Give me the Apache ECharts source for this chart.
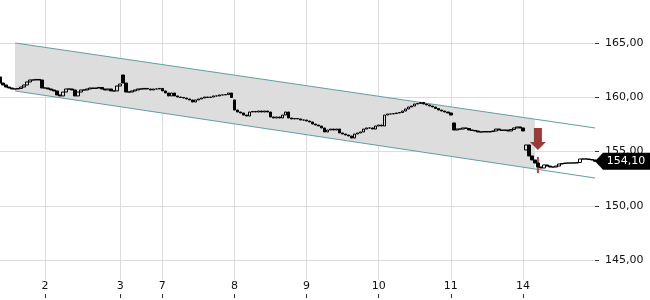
<!DOCTYPE html>
<html><head><meta charset="utf-8">
<script src="https://cdn.jsdelivr.net/npm/echarts@6/dist/echarts.min.js"></script>
<style>html,body{margin:0;padding:0;background:#fff}#c{width:650px;height:300px}</style>
</head><body><div id="c"></div>
<script>
// closing price of each small bar (open = previous close unless listed in gapOpens)
const closes = [
161.31,161.13,160.94,160.85,160.76,160.76,160.81,160.94,161.13,161.41,
161.59,161.59,161.64,161.59,160.85,160.85,160.76,160.67,160.58,160.21,
160.12,160.48,160.76,160.76,160.67,160.12,160.48,160.67,160.67,160.76,
160.85,160.81,160.85,160.90,160.76,160.67,160.76,160.58,160.58,161.04,
161.22,161.31,160.48,160.48,160.58,160.67,160.76,160.76,160.81,160.76,
160.67,160.76,160.76,160.81,160.58,160.39,160.12,160.39,160.12,160.02,
159.98,159.93,159.84,159.75,159.56,159.75,159.84,159.93,160.02,159.98,
160.02,160.12,160.12,160.21,160.21,160.25,160.39,159.98,158.82,158.64,
158.55,158.36,158.27,158.64,158.69,158.64,158.73,158.64,158.73,158.64,
158.18,158.09,158.18,158.09,158.36,158.64,158.09,158.00,158.04,158.00,
157.90,157.90,157.81,157.72,157.53,157.44,157.35,157.17,156.80,156.98,
157.07,156.98,157.07,156.71,156.61,156.52,156.43,156.24,156.61,156.71,
156.80,157.07,157.17,157.17,157.07,157.35,157.44,157.35,158.36,158.46,
158.46,158.50,158.55,158.59,158.73,158.92,159.10,159.19,159.38,159.42,
159.52,159.38,159.29,159.19,159.10,158.96,158.82,158.73,158.64,158.55,
158.36,156.98,157.07,157.07,157.17,157.12,156.98,156.94,156.89,156.80,
156.80,156.84,156.80,156.84,156.89,157.07,156.98,156.94,156.98,156.89,
157.03,157.17,157.26,157.17,156.89,155.60,154.59,154.22,153.94,153.57,
153.48,153.76,153.66,153.57,153.57,153.66,153.85,153.89,153.94,153.94,
153.94,153.94,153.99,154.31,154.31,154.31,154.26,154.22,154.10
];
const gapOpens = {0:161.87, 41:162.05, 78:159.75, 151:157.63, 175:155.14};
const dayLabels = ['2','3','7','8','9','10','11','14'];
const dayStartIdx = [15,40,54,78,102,126,150,174];
const channelIdx = [5,178,198];
const channelUpper = [165.00,157.98,157.17];
const channelLower = [160.58,153.39,152.56];
const lastPrice = 154.10;
const arrowPoint = [179, 156.15];
const signalBar = [179, 154.50, 153.00];

const cats = closes.map((_, i) => String(i));
const candles = closes.map((c, i) => {
  const o = (i in gapOpens) ? gapOpens[i] : closes[i - 1];
  return [o, c, Math.min(o, c), Math.max(o, c)];
});
const isDay = (i) => dayStartIdx.indexOf(i) >= 0;
const fmt = (v) => v.toFixed(2).replace('.', ',');
const FONT = 'DejaVu Sans';

const chart = echarts.init(document.getElementById('c'), null, {renderer: 'canvas'});
chart.setOption({
  animation: false,
  backgroundColor: '#fff',
  grid: [
    {left: 0, right: 55, top: 0, height: 280},
    {left: 0, right: 55, top: 280, height: 18}
  ],
  xAxis: [
    {type: 'category', gridIndex: 0, data: cats, boundaryGap: false,
     axisLine: {show: false}, axisTick: {show: false}, axisLabel: {show: false},
     splitLine: {show: true, interval: (i) => isDay(i), lineStyle: {color: '#dddddd', width: 1}}},
    {type: 'category', gridIndex: 1, data: cats, boundaryGap: false,
     axisLine: {show: false},
     axisTick: {show: true, inside: true, length: 4, interval: (i) => isDay(i), lineStyle: {color: '#333', width: 1}},
     axisLabel: {show: true, inside: true, margin: 6, interval: (i) => isDay(i),
       formatter: (v, i) => dayLabels[dayStartIdx.indexOf(i)] || '',
       color: '#111', fontSize: 11, fontFamily: FONT},
     splitLine: {show: false}}
  ],
  yAxis: [
    {type: 'value', gridIndex: 0, position: 'right', min: 143.16, max: 168.96, splitNumber: 5, scale: true,
     axisLine: {show: false},
     axisTick: {show: true, length: 4, lineStyle: {color: '#333'}},
     axisLabel: {show: true, margin: 10, formatter: fmt, color: '#111', fontSize: 11, fontFamily: FONT,
       showMinLabel: false, showMaxLabel: false},
     splitLine: {show: true, showMinLine: false, showMaxLine: false, lineStyle: {color: '#dddddd', width: 1}}},
    {type: 'value', gridIndex: 1, show: false}
  ],
  series: [
    {type: 'custom', xAxisIndex: 0, yAxisIndex: 0, z: 1, silent: true, data: [[0]],
     renderItem: (params, api) => {
       const pts = [
         api.coord([channelIdx[0], channelUpper[0]]),
         api.coord([channelIdx[1], channelUpper[1]]),
         api.coord([channelIdx[1], channelLower[1]]),
         api.coord([channelIdx[0], channelLower[0]])
       ];
       return {type: 'polygon', shape: {points: pts}, style: {fill: '#dddddd'}};
     }},
    {type: 'line', z: 2, showSymbol: false, silent: true,
     data: channelIdx.map((x, k) => [x, channelUpper[k]]),
     lineStyle: {color: '#5e9fa6', width: 1}},
    {type: 'line', z: 2, showSymbol: false, silent: true,
     data: channelIdx.map((x, k) => [x, channelLower[k]]),
     lineStyle: {color: '#5e9fa6', width: 1}},
    {type: 'custom', z: 3, silent: true, data: [[0]],
     renderItem: (params, api) => {
       const a = api.coord([signalBar[0], signalBar[1]]);
       const b = api.coord([signalBar[0], signalBar[2]]);
       return {type: 'rect', shape: {x: a[0] - 1, y: a[1], width: 2, height: b[1] - a[1]}, style: {fill: '#b84444'}};
     }},
    {type: 'candlestick', z: 4, data: candles, barWidth: 3,
     itemStyle: {color: 'transparent', color0: '#000', borderColor: '#000', borderColor0: '#000', borderWidth: 1},
     markPoint: {
       silent: true,
       data: [
         {coord: [cats[cats.length - 1], lastPrice], symbol: 'path://M0,8.5 L8,0 L56,0 L56,17 L8,17 Z',
          symbolSize: [56, 17], symbolOffset: [28, 0], symbolKeepAspect: false,
          itemStyle: {color: '#000', borderWidth: 0},
          label: {show: true, position: 'inside', formatter: fmt(lastPrice), color: '#fff',
            fontSize: 11, fontFamily: FONT, offset: [3, 0]}},
         {coord: [cats[arrowPoint[0]], arrowPoint[1]], symbol: 'path://M4,0 L12,0 L12,14 L16,14 L8,22 L0,14 L4,14 Z',
          symbolSize: [16, 22], itemStyle: {color: '#9c3a3a', borderWidth: 0}, label: {show: false}}
       ]
     }}
  ]
});
</script>
</body></html>
